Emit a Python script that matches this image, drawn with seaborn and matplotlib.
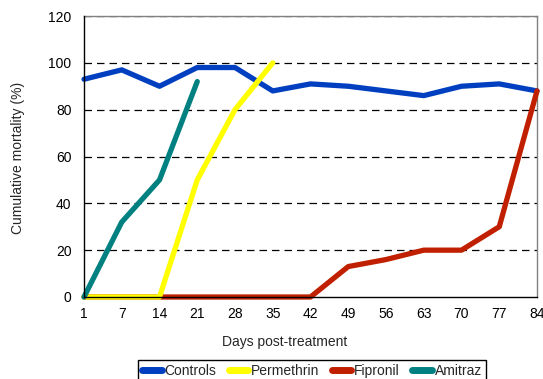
import matplotlib
matplotlib.use("Agg")
import matplotlib.pyplot as plt
import seaborn as sns
import pandas as pd
from matplotlib.lines import Line2D

# Sampling days (plotted at evenly spaced positions)
days = [1, 7, 14, 21, 28, 35, 42, 49, 56, 63, 70, 77, 84]

# Cumulative mortality (%) per treatment group
controls = [93, 97, 90, 98, 98, 88, 91, 90, 88, 86, 90, 91, 88]
fipronil = [0, 0, 0, 0, 0, 0, 0, 13, 16, 20, 20, 30, 88]
permethrin = [0, 0, 0, 50, 80, 100]
amitraz = [0, 32, 50, 92]

series = {
    "Controls": controls,
    "Fipronil": fipronil,
    "Permethrin": permethrin,
    "Amitraz": amitraz,
}
colors = {
    "Controls": "#0040c0",
    "Permethrin": "#ffff00",
    "Fipronil": "#c02000",
    "Amitraz": "#008080",
}
legend_order = ["Controls", "Permethrin", "Fipronil", "Amitraz"]

rows = []
for name, vals in series.items():
    for i, v in enumerate(vals):
        rows.append({"pos": i, "day": days[i], "mortality": v, "group": name})
df = pd.DataFrame(rows)

sns.set_style("white")
plt.rcParams["font.family"] = ["Liberation Sans", "DejaVu Sans"]

fig = plt.figure(figsize=(5.43, 3.79), dpi=100)
ax = fig.add_axes([84 / 543, 1 - 297 / 379, (537 - 84) / 543, (297 - 16) / 379])

for y in range(20, 121, 20):
    ax.axhline(y, color="black", lw=0.9, ls=(0, (6, 4)), zorder=1)

sns.lineplot(
    data=df, x="pos", y="mortality", hue="group",
    hue_order=["Controls", "Fipronil", "Permethrin", "Amitraz"],
    palette=colors, linewidth=3.8, legend=False, ax=ax,
    solid_capstyle="round", clip_on=False, zorder=3,
)

ax.set_xlim(0, len(days) - 1)
ax.set_ylim(0, 120)
ax.set_xticks(range(len(days)))
ax.set_xticklabels([str(d) for d in days])
ax.set_yticks(range(0, 121, 20))
ax.tick_params(axis="both", labelsize=10, length=0, colors="black")
ax.tick_params(axis="x", pad=7)
ax.tick_params(axis="y", pad=9)
ax.set_xlabel("")
ax.set_ylabel("")

for side in ["top", "right"]:
    ax.spines[side].set_color("#808080")
    ax.spines[side].set_linewidth(1.0)
for side in ["left", "bottom"]:
    ax.spines[side].set_color("black")
    ax.spines[side].set_linewidth(1.0)
    ax.spines[side].set_zorder(5)

fig.text(285 / 543, 1 - 342 / 379, "Days post-treatment", ha="center", va="center",
         fontsize=10)
fig.text(18 / 543, 1 - 158 / 379, "Cumulative mortality (%)", ha="center", va="center",
         rotation=90, fontsize=10)

handles = [Line2D([0], [0], color=colors[n], lw=5, solid_capstyle="round")
           for n in legend_order]
fig.legend(handles, legend_order, loc="upper center", ncol=4,
           bbox_to_anchor=(312 / 543, 1 - 360 / 379), fontsize=10,
           frameon=True, fancybox=False, edgecolor="black", framealpha=1,
           handlelength=1.4, handletextpad=0.2, columnspacing=0.9,
           borderpad=0.3, borderaxespad=0)

fig.savefig("out.png", dpi=100)
